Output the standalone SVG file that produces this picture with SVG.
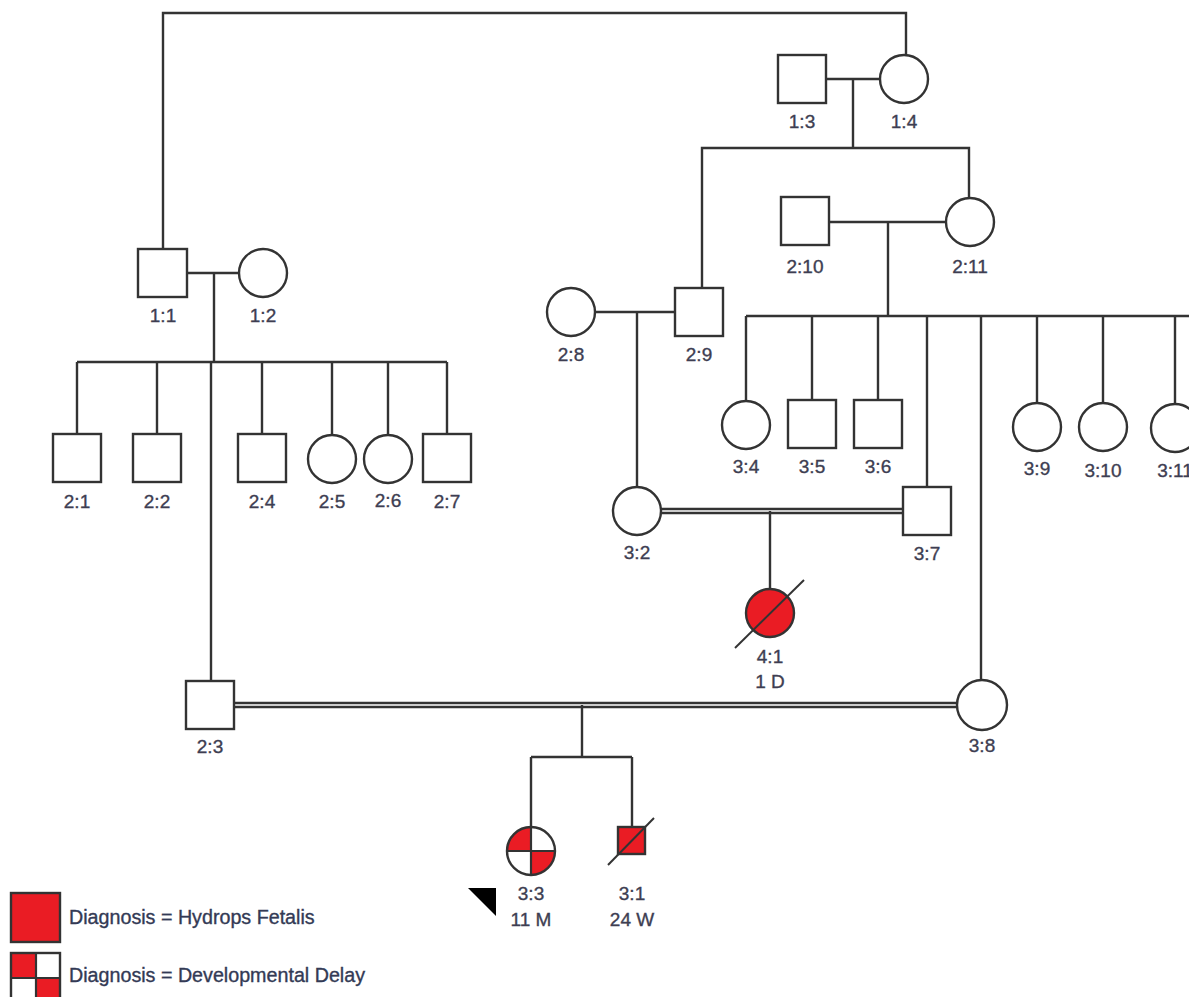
<svg xmlns="http://www.w3.org/2000/svg" width="1189" height="997" viewBox="0 0 1189 997">
<style>
.s{fill:#fff;stroke:#333;stroke-width:2.4}
.a{fill:#ea1c24;stroke:#333;stroke-width:2.4}
.c line,.c path{stroke:#333;stroke-width:2.4;fill:none}
.t{font-family:"Liberation Sans",Arial,sans-serif;font-size:19px;fill:#3e3e52;stroke:#3e3e52;stroke-width:0.35;text-anchor:middle}
.lg{font-family:"Liberation Sans",Arial,sans-serif;font-size:19.7px;fill:#333a55;stroke:#333a55;stroke-width:0.35}
.sl{stroke:#333;stroke-width:2}
</style>
<rect width="1189" height="997" fill="#fff"/>
<g id="connectors" class="c">
<path d="M163,249 V13 H906 V55"/>
<path d="M826,79 H880 M853,79 V148 M702,287 V148 H969 V198"/>
<path d="M829,222 H946 M888,222 V316 M746,316 H1189"/>
<path d="M746,316 V401 M812,316 V400 M878,316 V400 M927,316 V487 M981,316 V680 M1037,316 V403 M1103,316 V403 M1175,316 V404"/>
<path d="M187,273 H239 M214,273 V362 M77,362 H447"/>
<path d="M77,362 V434 M157,362 V434 M211,362 V681 M262,362 V434 M332,362 V435 M388,362 V435 M447,362 V434"/>
<path d="M596,312 H675 M637,312 V487"/>
<path d="M661,509 H903 M661,513 H903 M770,511 V589"/>
<path d="M234,703 H957 M234,707 H957 M582,705 V757 M531,757 H632 M531,757 V827 M632,757 V827"/>
</g>
<g id="n1_3"><rect class="s" x="778" y="55" width="48" height="48"/><text class="t" x="802" y="128">1:3</text></g>
<g id="n1_4"><circle class="s" cx="904" cy="79" r="24"/><text class="t" x="904" y="128">1:4</text></g>
<g id="n1_1"><rect class="s" x="138" y="249" width="49" height="48"/><text class="t" x="163" y="322">1:1</text></g>
<g id="n1_2"><circle class="s" cx="263" cy="273" r="24"/><text class="t" x="263" y="322">1:2</text></g>
<g id="n2_1"><rect class="s" x="53" y="434" width="48" height="48"/><text class="t" x="77" y="508">2:1</text></g>
<g id="n2_2"><rect class="s" x="133" y="434" width="48" height="48"/><text class="t" x="157" y="508">2:2</text></g>
<g id="n2_4"><rect class="s" x="238" y="434" width="48" height="48"/><text class="t" x="262" y="508">2:4</text></g>
<g id="n2_5"><circle class="s" cx="332" cy="459" r="24"/><text class="t" x="332" y="508">2:5</text></g>
<g id="n2_6"><circle class="s" cx="388" cy="459" r="24"/><text class="t" x="388" y="507">2:6</text></g>
<g id="n2_7"><rect class="s" x="423" y="434" width="48" height="48"/><text class="t" x="447" y="508">2:7</text></g>
<g id="n2_10"><rect class="s" x="781" y="197" width="48" height="48"/><text class="t" x="805" y="273">2:10</text></g>
<g id="n2_11"><circle class="s" cx="970" cy="222" r="24"/><text class="t" x="970" y="273">2:11</text></g>
<g id="n2_8"><circle class="s" cx="571" cy="312" r="24"/><text class="t" x="571" y="361">2:8</text></g>
<g id="n2_9"><rect class="s" x="675" y="288" width="48" height="48"/><text class="t" x="699" y="361">2:9</text></g>
<g id="n3_4"><circle class="s" cx="746" cy="425" r="24"/><text class="t" x="746" y="473">3:4</text></g>
<g id="n3_5"><rect class="s" x="788" y="400" width="48" height="48"/><text class="t" x="812" y="473">3:5</text></g>
<g id="n3_6"><rect class="s" x="854" y="400" width="48" height="48"/><text class="t" x="878" y="473">3:6</text></g>
<g id="n3_9"><circle class="s" cx="1037" cy="427" r="24"/><text class="t" x="1037" y="475">3:9</text></g>
<g id="n3_10"><circle class="s" cx="1103" cy="427" r="24"/><text class="t" x="1103" y="477">3:10</text></g>
<g id="n3_11"><circle class="s" cx="1175" cy="428" r="24"/><text class="t" x="1175" y="477">3:11</text></g>
<g id="n3_2"><circle class="s" cx="637" cy="511" r="24"/><text class="t" x="637" y="559">3:2</text></g>
<g id="n3_7"><rect class="s" x="903" y="487" width="48" height="48"/><text class="t" x="927" y="560">3:7</text></g>
<g id="n4_1"><circle class="a" cx="770" cy="613" r="24"/><line class="sl" x1="735" y1="648" x2="804" y2="580"/><text class="t" x="770" y="663">4:1</text><text class="t" x="770" y="688">1 D</text></g>
<g id="n2_3"><rect class="s" x="186" y="681" width="48" height="48"/><text class="t" x="210" y="753">2:3</text></g>
<g id="n3_8"><circle class="s" cx="982" cy="705" r="25"/><text class="t" x="982" y="752">3:8</text></g>
<g id="n3_3">
<circle cx="531" cy="851" r="24" fill="#fff"/>
<path d="M531,851 H507 A24,24 0 0 1 531,827 Z M531,851 H555 A24,24 0 0 1 531,875 Z" fill="#ea1c24"/>
<circle cx="531" cy="851" r="24" fill="none" stroke="#333" stroke-width="2.4"/>
<path d="M507,851 H555 M531,827 V875" stroke="#333" stroke-width="2.2"/>
<polygon points="468,888 496,888 496,916" fill="#000"/>
<text class="t" x="531" y="900">3:3</text><text class="t" x="531" y="926">11 M</text>
</g>
<g id="n3_1"><rect class="a" x="618" y="827" width="27" height="27"/><line class="sl" x1="608" y1="865" x2="654" y2="818"/><text class="t" x="632" y="900">3:1</text><text class="t" x="632" y="926">24 W</text></g>
<g id="legend">
<rect class="a" x="11" y="893" width="49" height="49"/>
<text class="lg" x="69" y="924">Diagnosis = Hydrops Fetalis</text>
<rect x="11" y="953" width="25" height="25" fill="#ea1c24"/>
<rect x="36" y="978" width="25" height="25" fill="#ea1c24"/>
<rect x="11" y="953" width="49" height="49" fill="none" stroke="#333" stroke-width="2.4"/>
<path d="M11,978 H60 M36,953 V1002" stroke="#333" stroke-width="2.2"/>
<text class="lg" x="69" y="982">Diagnosis = Developmental Delay</text>
</g>
</svg>
